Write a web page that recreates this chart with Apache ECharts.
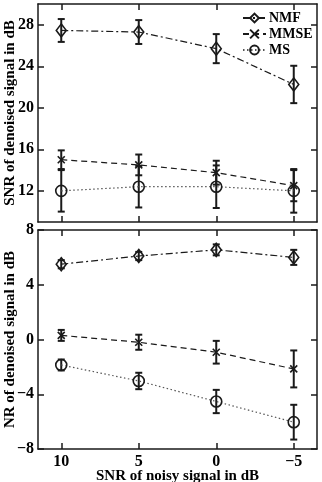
<!DOCTYPE html>
<html>
<head>
<meta charset="utf-8">
<script src="https://cdn.jsdelivr.net/npm/echarts@6/dist/echarts.min.js"></script>
<style>
  html, body { margin: 0; padding: 0; background: #fff; }
  #main { width: 322px; height: 482px; }
</style>
</head>
<body>
<div id="main"></div>
<script>
// input SNR (x axis, reversed)
var snrIn = [10, 5, 0, -5];

// top panel: SNR of denoised signal
var snrNmf = [27.45, 27.3, 25.7, 22.25];
var snrNmfErr = [1.1, 1.15, 1.4, 1.8];
var snrMmse = [15.0, 14.5, 13.75, 12.5];
var snrMmseErr = [0.9, 1.0, 1.15, 1.5];
var snrMs = [12.0, 12.4, 12.4, 12.0];
var snrMsErr = [2.0, 2.0, 2.05, 2.1];

// bottom panel: NR of denoised signal
var nrNmf = [5.5, 6.1, 6.55, 6.0];
var nrNmfErr = [0.3, 0.3, 0.4, 0.55];
var nrMmse = [0.3, -0.2, -0.93, -2.15];
var nrMmseErr = [0.4, 0.55, 0.83, 1.35];
var nrMs = [-1.86, -3.03, -4.53, -6.04];
var nrMsErr = [0.4, 0.6, 0.85, 1.27];

var xTicks = [10, 5, 0, -5];
var topTicks = [12, 16, 20, 24, 28];
var botTicks = [-8, -4, 0, 4, 8];

var FONT = 'Liberation Serif';
var INK = '#1a1a1a';

function pts(vals) {
    return snrIn.map(function (x, i) { return [x, vals[i]]; });
}
function bars(vals, errs) {
    return snrIn.map(function (x, i) { return [x, vals[i] - errs[i], vals[i] + errs[i]]; });
}
function minus(v) { return String(v).replace('-', '\u2212'); }

function errRender(params, api) {
    var x = api.value(0);
    var lo = api.coord([x, api.value(1)]);
    var hi = api.coord([x, api.value(2)]);
    var w = 3.5;
    var st = { stroke: INK, lineWidth: 2 };
    return {
        type: 'group',
        children: [
            { type: 'line', shape: { x1: hi[0], y1: hi[1], x2: lo[0], y2: lo[1] }, style: st },
            { type: 'line', shape: { x1: hi[0] - w, y1: hi[1], x2: hi[0] + w, y2: hi[1] }, style: st },
            { type: 'line', shape: { x1: lo[0] - w, y1: lo[1], x2: lo[0] + w, y2: lo[1] }, style: st }
        ]
    };
}

var styles = {
    NMF: { symbol: 'diamond', size: [10, 13], dash: [7, 3, 2, 3], color: INK },
    MMSE: { symbol: 'path://M0,0L10,10M10,0L0,10', size: 7, dash: [6, 4], color: INK },
    MS: { symbol: 'circle', size: 11, dash: [1.5, 2.5], color: '#555' }
};

function lineSeries(name, vals, gi) {
    var s = styles[name];
    return {
        name: name, type: 'line',
        xAxisIndex: gi * 2, yAxisIndex: gi * 2,
        data: pts(vals),
        symbol: s.symbol, symbolSize: s.size,
        lineStyle: { color: s.color, width: 1.2, type: s.dash },
        itemStyle: { color: 'rgba(0,0,0,0)', borderColor: INK, borderWidth: 1.6 },
        z: 3
    };
}
function errSeries(vals, errs, gi) {
    return {
        type: 'custom',
        xAxisIndex: gi * 2, yAxisIndex: gi * 2,
        data: bars(vals, errs),
        encode: { x: 0, y: [1, 2] },
        renderItem: errRender,
        z: 2
    };
}

function xAx(gi, pos, labels) {
    var a = {
        type: 'value', gridIndex: gi, position: pos,
        min: -6.5, max: 11.5, inverse: true,
        axisLine: { show: true, onZero: false, lineStyle: { color: INK, width: 1.5 } },
        axisTick: { show: true, inside: true, length: 6, customValues: xTicks, lineStyle: { color: INK, width: 1.5 } },
        axisLabel: { show: labels, customValues: xTicks, margin: 5, formatter: minus,
            fontFamily: FONT, fontWeight: 'bold', fontSize: 16, color: '#000' },
        splitLine: { show: false }
    };
    if (labels) {
        a.name = 'SNR of noisy signal in dB';
        a.nameLocation = 'middle';
        a.nameGap = 20;
        a.nameMoveOverlap = false;
        a.nameTextStyle = { fontFamily: FONT, fontWeight: 'bold', fontSize: 15, color: '#000' };
    }
    return a;
}
function yAx(gi, pos, labels, mn, mx, ticks, title) {
    var a = {
        type: 'value', gridIndex: gi, position: pos,
        min: mn, max: mx,
        axisLine: { show: true, onZero: false, lineStyle: { color: INK, width: 1.5 } },
        axisTick: { show: true, inside: true, length: 6, customValues: ticks, lineStyle: { color: INK, width: 1.5 } },
        axisLabel: { show: labels, customValues: ticks, margin: 4, formatter: minus,
            fontFamily: FONT, fontWeight: 'bold', fontSize: 16, color: '#000' },
        splitLine: { show: false }
    };
    if (title) {
        a.name = title;
        a.nameLocation = 'middle';
        a.nameGap = 20;
        a.nameMoveOverlap = false;
        a.nameTextStyle = { fontFamily: FONT, fontWeight: 'bold', fontSize: 15, color: '#000' };
    }
    return a;
}

var chart = echarts.init(document.getElementById('main'));
var option = {
    backgroundColor: '#fff',
    animation: false,
    grid: [
        { left: 38, top: 4, width: 279, height: 218, outerBoundsMode: 'none' },
        { left: 38, top: 230, width: 279, height: 219, outerBoundsMode: 'none' }
    ],
    legend: {
        orient: 'vertical', left: 242, top: 11, padding: 0,
        itemWidth: 23, itemHeight: 11, itemGap: 2,
        data: ['NMF', 'MMSE', 'MS'],
        textStyle: { fontFamily: FONT, fontWeight: 'bold', fontSize: 14, lineHeight: 13, color: '#000', padding: [0, 0, 0, -2] }
    },
    xAxis: [xAx(0, 'bottom', false), xAx(0, 'top', false), xAx(1, 'bottom', true), xAx(1, 'top', false)],
    yAxis: [
        yAx(0, 'left', true, 9, 30, topTicks, 'SNR of denoised signal in dB'),
        yAx(0, 'right', false, 9, 30, topTicks),
        yAx(1, 'left', true, -8, 8, botTicks, 'NR of denoised signal in dB'),
        yAx(1, 'right', false, -8, 8, botTicks)
    ],
    series: [
        errSeries(snrNmf, snrNmfErr, 0),
        errSeries(snrMmse, snrMmseErr, 0),
        errSeries(snrMs, snrMsErr, 0),
        lineSeries('NMF', snrNmf, 0),
        lineSeries('MMSE', snrMmse, 0),
        lineSeries('MS', snrMs, 0),
        errSeries(nrNmf, nrNmfErr, 1),
        errSeries(nrMmse, nrMmseErr, 1),
        errSeries(nrMs, nrMsErr, 1),
        lineSeries('NMF', nrNmf, 1),
        lineSeries('MMSE', nrMmse, 1),
        lineSeries('MS', nrMs, 1)
    ]
};
chart.setOption(option);
</script>
</body>
</html>
